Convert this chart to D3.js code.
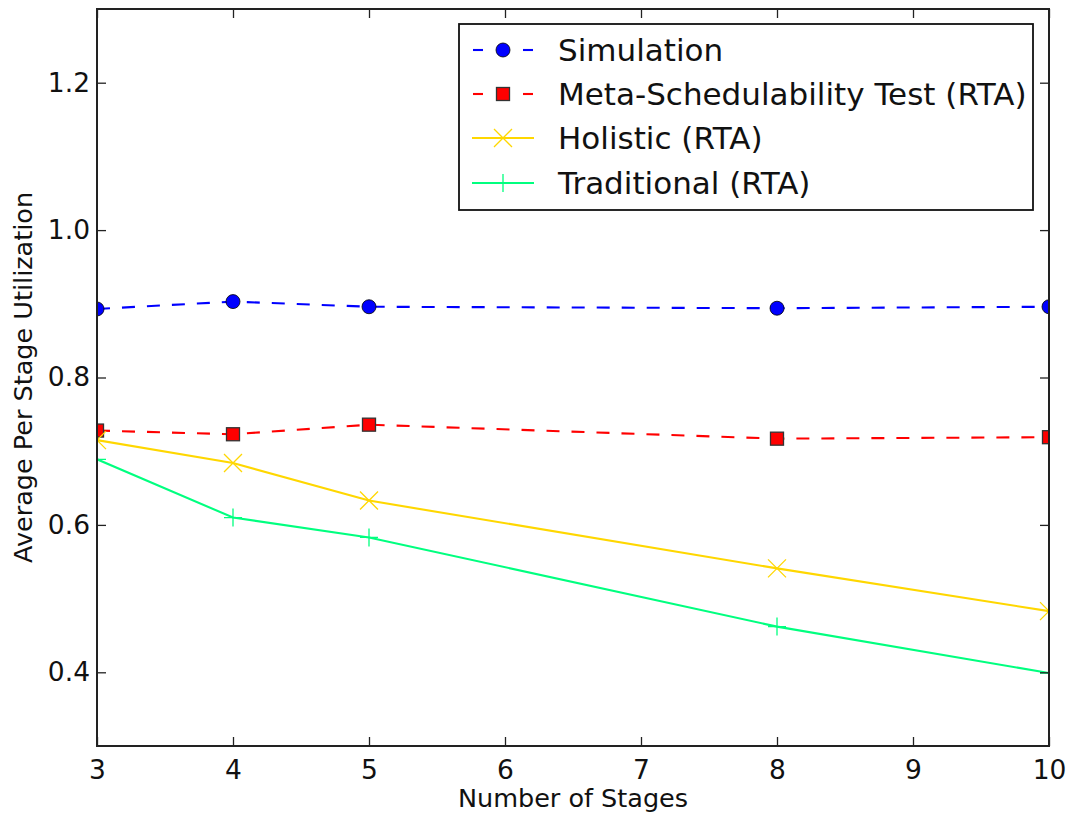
<!DOCTYPE html>
<html>
<head>
<meta charset="utf-8">
<script src="https://cdn.jsdelivr.net/npm/d3@7"></script>
<style>
  html, body { margin: 0; padding: 0; background: #fff; }
  svg text { font-family: "DejaVu Sans", sans-serif; fill: #111; }
</style>
</head>
<body>
<svg id="chart" width="1070" height="819"></svg>
<script>
// stage counts on the x axis
const stages = [3, 4, 5, 8, 10];

// average per stage utilization for each method
const simulation   = [0.893, 0.903, 0.896, 0.894, 0.896];
const metaTest     = [0.728, 0.723, 0.736, 0.717, 0.719];
const holistic     = [0.715, 0.684, 0.633, 0.541, 0.483];
const traditional  = [0.689, 0.610, 0.583, 0.462, 0.399];

const xTicks = [3, 4, 5, 6, 7, 8, 9, 10];
const yTicks = [0.4, 0.6, 0.8, 1.0, 1.2];

const seriesNames = ["Simulation", "Meta-Schedulability Test (RTA)", "Holistic (RTA)", "Traditional (RTA)"];

const series = [
    { name: seriesNames[0], values: simulation,  color: "#0000ff", dash: "13,12", marker: "circle" },
    { name: seriesNames[1], values: metaTest,    color: "#ff0000", dash: "13,12", marker: "square" },
    { name: seriesNames[2], values: holistic,    color: "#ffd700", dash: null,    marker: "x" },
    { name: seriesNames[3], values: traditional, color: "#00ff7f", dash: null,    marker: "plus" }
];

const svg = d3.select("#chart");

// plot area in pixels
const plotL = 97, plotR = 1049, plotT = 9, plotB = 746;

const x = d3.scaleLinear().domain([3, 10]).range([plotL, plotR]);
const y = d3.scaleLinear().domain([0.3, 1.3]).range([plotB, plotT]);

// draw one marker of a given kind centred on (cx, cy)
function drawMarker(g, kind, cx, cy, color) {
    if (kind === "circle") {
        g.append("circle").attr("cx", cx).attr("cy", cy).attr("r", 7)
            .attr("fill", color).attr("stroke", "#000").attr("stroke-width", 0.8);
    } else if (kind === "square") {
        g.append("rect").attr("x", cx - 6.5).attr("y", cy - 6.5).attr("width", 13).attr("height", 13)
            .attr("fill", color).attr("stroke", "#333").attr("stroke-width", 1.3);
    } else if (kind === "x") {
        const s = 9;
        g.append("path").attr("d", `M${cx - s},${cy - s}L${cx + s},${cy + s}M${cx - s},${cy + s}L${cx + s},${cy - s}`)
            .attr("stroke", color).attr("stroke-width", 1.3).attr("fill", "none");
    } else {
        const s = 9;
        g.append("path").attr("d", `M${cx - s},${cy}L${cx + s},${cy}M${cx},${cy - s}L${cx},${cy + s}`)
            .attr("stroke", color).attr("stroke-width", 1.3).attr("fill", "none");
    }
}

// data lines and markers, clipped to the axes box like matplotlib
svg.append("clipPath").attr("id", "plotclip")
    .append("rect").attr("x", plotL).attr("y", plotT).attr("width", plotR - plotL).attr("height", plotB - plotT);

const plot = svg.append("g").attr("clip-path", "url(#plotclip)");

const line = d3.line()
    .x((d, i) => x(stages[i]))
    .y(d => y(d));

series.forEach(s => {
    plot.append("path")
        .datum(s.values)
        .attr("fill", "none")
        .attr("stroke", s.color)
        .attr("stroke-width", 2.1)
        .attr("stroke-dasharray", s.dash)
        .attr("d", line);
});

series.forEach(s => {
    const mg = plot.append("g");
    s.values.forEach((v, i) => drawMarker(mg, s.marker, x(stages[i]), y(v), s.color));
});

// axes: ticks point inward on all four sides
const tickLen = 9;
const axisColor = "#222";

svg.append("g")
    .attr("transform", `translate(0,${plotB})`)
    .call(d3.axisBottom(x).tickValues(xTicks).tickSize(-tickLen).tickPadding(14).tickFormat(d3.format("d")))
    .call(g => g.select(".domain").remove())
    .call(g => g.selectAll("line").attr("stroke", axisColor).attr("stroke-width", 1.3))
    .call(g => g.selectAll("text").attr("font-size", "26.5px").attr("font-family", "DejaVu Sans").attr("fill", "#111"));

svg.append("g")
    .attr("transform", `translate(0,${plotT})`)
    .call(d3.axisTop(x).tickValues(xTicks).tickSize(-tickLen).tickFormat(""))
    .call(g => g.select(".domain").remove())
    .call(g => g.selectAll("line").attr("stroke", axisColor).attr("stroke-width", 1.3));

svg.append("g")
    .attr("transform", `translate(${plotL},0)`)
    .call(d3.axisLeft(y).tickValues(yTicks).tickSize(-tickLen).tickPadding(7).tickFormat(d3.format(".1f")))
    .call(g => g.select(".domain").remove())
    .call(g => g.selectAll("line").attr("stroke", axisColor).attr("stroke-width", 1.3))
    .call(g => g.selectAll("text").attr("font-size", "26.5px").attr("font-family", "DejaVu Sans").attr("fill", "#111"));

svg.append("g")
    .attr("transform", `translate(${plotR},0)`)
    .call(d3.axisRight(y).tickValues(yTicks).tickSize(-tickLen).tickFormat(""))
    .call(g => g.select(".domain").remove())
    .call(g => g.selectAll("line").attr("stroke", axisColor).attr("stroke-width", 1.3));

// frame
svg.append("rect")
    .attr("x", plotL).attr("y", plotT)
    .attr("width", plotR - plotL).attr("height", plotB - plotT)
    .attr("fill", "none").attr("stroke", axisColor).attr("stroke-width", 2);

// axis labels
svg.append("text")
    .attr("x", (plotL + plotR) / 2)
    .attr("y", 807)
    .attr("text-anchor", "middle")
    .attr("font-size", "25.5px")
    .text("Number of Stages");

svg.append("text")
    .attr("transform", `translate(32,${(plotT + plotB) / 2}) rotate(-90)`)
    .attr("text-anchor", "middle")
    .attr("font-size", "25.5px")
    .text("Average Per Stage Utilization");

// legend
const legend = svg.append("g");
legend.append("rect")
    .attr("x", 459).attr("y", 24)
    .attr("width", 574).attr("height", 186)
    .attr("fill", "#fff").attr("stroke", "#111").attr("stroke-width", 1.8);

const legendRows = [50, 94, 138, 183];
series.forEach((s, i) => {
    const ly = legendRows[i];
    if (s.dash) {
        // dashed handle: one short dash each side of the marker
        [[473, 483], [523, 533]].forEach(([a, b]) => {
            legend.append("line")
                .attr("x1", a).attr("x2", b).attr("y1", ly).attr("y2", ly)
                .attr("stroke", s.color).attr("stroke-width", 2.1);
        });
    } else {
        legend.append("line")
            .attr("x1", 472).attr("x2", 534).attr("y1", ly).attr("y2", ly)
            .attr("stroke", s.color).attr("stroke-width", 2.1);
    }
    drawMarker(legend, s.marker, 503, ly, s.color);
    legend.append("text")
        .attr("x", 558).attr("y", ly)
        .attr("dy", "0.36em")
        .attr("font-size", "31px")
        .text(s.name);
});
</script>
</body>
</html>
